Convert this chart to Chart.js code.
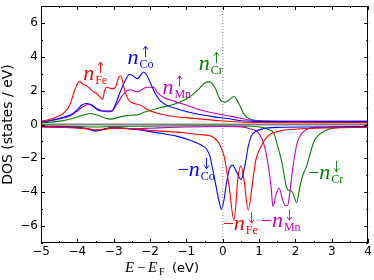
<!DOCTYPE html>
<html>
<head>
<meta charset="utf-8">
<script src="https://cdn.jsdelivr.net/npm/chart.js@4.4.1/dist/chart.umd.min.js"></script>
<style>
  html, body { margin: 0; padding: 0; background: #fff; }
  #c { display: block; }
</style>
</head>
<body>
<canvas id="c" width="374" height="280"></canvas>
<script>
// spin-resolved DOS, [E - E_F (eV), DOS (states/eV)]
const feUp = [[-5,0.2],[-4.8,0.28],[-4.57,0.45],[-4.34,0.75],[-4.2,1.2],[-4.06,2.1],[-3.94,2.55],[-3.83,2.35],[-3.74,2.28],[-3.6,2.0],[-3.46,1.82],[-3.3,1.5],[-3.25,2.0],[-3.19,2.2],[-3.05,2.12],[-2.96,2.17],[-2.86,2.8],[-2.8,2.88],[-2.73,2.3],[-2.68,1.9],[-2.59,1.45],[-2.45,1.25],[-2.27,1.15],[-2.08,0.88],[-1.8,0.66],[-1.34,0.47],[-0.79,0.36],[-0.06,0.22],[0.5,0.15],[1,0.12],[2,0.1],[3,0.1],[4,0.1]];
const coUp = [[-5,0.15],[-4.57,0.33],[-4.2,0.56],[-4.01,0.85],[-3.88,1.15],[-3.74,1.24],[-3.6,1.15],[-3.46,0.89],[-3.32,0.8],[-3.05,0.8],[-2.96,1.15],[-2.82,1.93],[-2.68,2.6],[-2.57,2.95],[-2.5,2.92],[-2.35,2.7],[-2.18,3.1],[-2.1,2.95],[-1.99,2.45],[-1.85,1.8],[-1.71,1.38],[-1.5,1.1],[-1.25,0.92],[-0.8,0.66],[-0.24,0.45],[0.13,0.35],[0.5,0.22],[1.23,0.18],[2,0.18],[3,0.18],[4,0.18]];
const mnUp = [[-5,0.12],[-4.57,0.3],[-4.2,0.5],[-4.0,0.8],[-3.85,1.05],[-3.7,1.18],[-3.55,1.05],[-3.37,0.85],[-3.2,0.75],[-3.05,0.78],[-2.91,1.2],[-2.73,1.8],[-2.54,2.05],[-2.36,1.93],[-2.08,2.2],[-1.9,2.2],[-1.8,1.9],[-1.62,1.6],[-1.34,1.38],[-0.97,1.12],[-0.61,0.86],[-0.15,0.63],[0.31,0.45],[0.68,0.28],[1.2,0.2],[2,0.2],[3,0.2],[4,0.2]];
const crUp = [[-5,0.1],[-4.48,0.2],[-4.11,0.37],[-3.83,0.56],[-3.65,0.65],[-3.46,0.56],[-3.23,0.37],[-3.09,0.32],[-2.82,0.45],[-2.54,0.55],[-2.36,0.56],[-2.17,0.72],[-1.71,1.0],[-1.34,1.2],[-0.97,1.55],[-0.7,2.0],[-0.5,2.45],[-0.36,2.52],[-0.22,2.2],[-0.08,1.5],[0.06,1.32],[0.18,1.45],[0.31,1.65],[0.45,1.2],[0.59,0.6],[0.77,0.3],[1.23,0.2],[2,0.15],[3,0.12],[4,0.12]];

const feDn = [[-5,-0.15],[-4.5,-0.17],[-4,-0.2],[-3.7,-0.25],[-3.5,-0.32],[-3.3,-0.28],[-3.0,-0.2],[-2.5,-0.25],[-2.0,-0.35],[-1.5,-0.42],[-1.0,-0.5],[-0.6,-0.6],[-0.33,-0.68],[-0.15,-0.97],[-0.06,-1.3],[0.04,-1.9],[0.17,-3.6],[0.31,-5.65],[0.42,-3.1],[0.5,-2.45],[0.58,-3.2],[0.7,-5.05],[0.82,-3.4],[0.91,-2.1],[1.05,-1.3],[1.23,-0.7],[1.5,-0.42],[2,-0.28],[3,-0.2],[4,-0.17]];
const coDn = [[-5,-0.12],[-4.5,-0.13],[-4,-0.17],[-3.7,-0.25],[-3.5,-0.38],[-3.3,-0.3],[-3.1,-0.2],[-2.9,-0.18],[-2.5,-0.28],[-2.27,-0.32],[-2.0,-0.42],[-1.71,-0.52],[-1.25,-0.7],[-0.88,-0.95],[-0.61,-1.2],[-0.45,-1.45],[-0.35,-1.9],[-0.28,-2.6],[-0.19,-3.6],[-0.1,-4.55],[-0.04,-5.0],[0.03,-4.5],[0.1,-3.5],[0.18,-2.65],[0.27,-2.4],[0.38,-2.8],[0.5,-3.25],[0.55,-3.0],[0.62,-2.3],[0.7,-1.3],[0.78,-0.7],[0.9,-0.42],[1.1,-0.25],[1.5,-0.17],[2.5,-0.15],[4,-0.13]];
const mnDn = [[-5,-0.13],[-4.5,-0.15],[-4,-0.2],[-3.7,-0.28],[-3.5,-0.38],[-3.3,-0.3],[-3.0,-0.22],[-2.5,-0.25],[-2.0,-0.22],[-1.5,-0.18],[-1,-0.15],[0,-0.12],[0.5,-0.14],[0.75,-0.25],[0.96,-0.45],[1.08,-0.85],[1.16,-1.4],[1.25,-2.4],[1.33,-3.7],[1.38,-4.85],[1.47,-4.1],[1.55,-3.75],[1.64,-4.4],[1.72,-4.8],[1.78,-4.8],[1.84,-4.1],[1.9,-3.0],[1.98,-1.8],[2.06,-1.0],[2.15,-0.6],[2.3,-0.3],[2.6,-0.17],[4,-0.13]];
const crDn = [[-5,-0.08],[-4,-0.12],[-3.5,-0.15],[-3,-0.12],[-2,-0.1],[-1,-0.08],[0,-0.08],[0.8,-0.1],[1.1,-0.18],[1.25,-0.3],[1.4,-0.5],[1.5,-1.2],[1.6,-2.0],[1.68,-2.85],[1.75,-3.7],[1.8,-3.87],[1.9,-3.95],[1.97,-4.3],[2.03,-4.62],[2.12,-3.7],[2.2,-3.0],[2.3,-2.5],[2.4,-1.75],[2.5,-1.05],[2.6,-0.7],[2.8,-0.38],[3.1,-0.2],[3.5,-0.13],[4,-0.12]];

const zeroLine = [[-5,0],[4,0]];
const fermiLine = [[0,-7],[0,7]];

const xTicks = [-5,-4,-3,-2,-1,0,1,2,3,4];
const yTicks = [-6,-4,-2,0,2,4,6];

const RED = '#ff0000', BLUE = '#0000ff', MAG = '#bf00bf', GREEN = '#008000';

// curve labels: [sign, subscript, arrow, E, DOS, colour]
const curveLabels = [
  ['', 'Fe', 'up', -3.84, 2.63, RED],
  ['', 'Co', 'up', -2.62, 3.56, BLUE],
  ['', 'Mn', 'up', -1.66, 1.81, MAG],
  ['', 'Cr', 'up', -0.66, 3.21, GREEN],
  ['−', 'Co', 'down', -1.24, -3.03, BLUE],
  ['−', 'Fe', 'down', 0.0, -6.24, RED],
  ['−', 'Mn', 'down', 1.05, -6.07, MAG],
  ['−', 'Cr', 'down', 2.35, -3.21, GREEN],
];

const fmt = v => (v < 0 ? '\u2212' + Math.abs(v) : String(v));
const pts = arr => arr.map(p => ({ x: p[0], y: p[1] }));

function series(arr, color) {
  return { data: pts(arr), borderColor: color, borderWidth: 1.1, pointRadius: 0, fill: false,
           cubicInterpolationMode: 'monotone' };
}

const framePlugin = {
  id: 'frame',
  afterDatasetsDraw(chart) {
    const { ctx, chartArea: a, scales } = chart;
    ctx.save();
    ctx.strokeStyle = '#000';
    ctx.lineWidth = 1;
    ctx.strokeRect(Math.round(a.left) + 0.5, Math.round(a.top) + 0.5,
                   Math.round(a.right - a.left) - 1, Math.round(a.bottom - a.top) - 1);
    // inward ticks, major and minor
    ctx.beginPath();
    for (let v = -5; v <= 4.001; v += 0.5) {
      const x = Math.round(scales.x.getPixelForValue(v)) + 0.5;
      const len = Number.isInteger(v) ? 4 : 2;
      ctx.moveTo(x, a.bottom); ctx.lineTo(x, a.bottom - len);
      ctx.moveTo(x, a.top); ctx.lineTo(x, a.top + len);
    }
    for (let v = -7; v <= 7; v += 1) {
      const y = Math.round(scales.y.getPixelForValue(v)) + 0.5;
      const len = v % 2 === 0 ? 4 : 2;
      ctx.moveTo(a.left, y); ctx.lineTo(a.left + len, y);
      ctx.moveTo(a.right, y); ctx.lineTo(a.right - len, y);
    }
    ctx.stroke();

    // curve labels
    ctx.textBaseline = 'alphabetic';
    ctx.textAlign = 'left';
    curveLabels.forEach(([sign, sub, dir, e, d, color]) => {
      let x = scales.x.getPixelForValue(e);
      const y = scales.y.getPixelForValue(d);
      ctx.fillStyle = color;
      ctx.strokeStyle = color;
      if (sign) {
        ctx.font = '20px "Liberation Serif"';
        ctx.fillText(sign, x, y);
        x += 11;
      }
      ctx.font = 'italic 22px "Liberation Serif"';
      ctx.fillText('n', x, y);
      const sx = x + 12;
      ctx.font = '12px "Liberation Serif"';
      ctx.fillText(sub, sx, y + 4);
      // spin arrow
      const ax = Math.round(sx + 5) + 0.5;
      const top = y - 18, bot = y - 7;
      ctx.lineWidth = 0.9;
      ctx.beginPath();
      ctx.moveTo(ax, top); ctx.lineTo(ax, bot);
      if (dir === 'up') {
        ctx.moveTo(ax - 2.5, top + 3.5); ctx.lineTo(ax, top); ctx.lineTo(ax + 2.5, top + 3.5);
      } else {
        ctx.moveTo(ax - 2.5, bot - 3.5); ctx.lineTo(ax, bot); ctx.lineTo(ax + 2.5, bot - 3.5);
      }
      ctx.stroke();
    });

    // x axis title: E - E_F (eV)
    ctx.fillStyle = '#000';
    const by = 272;
    ctx.font = 'italic 15px "Liberation Serif"';
    ctx.fillText('E', 125, by);
    ctx.font = '15px "Liberation Serif"';
    ctx.fillText('\u2212', 137, by);
    ctx.font = 'italic 15px "Liberation Serif"';
    ctx.fillText('E', 148, by);
    ctx.font = '10px "Liberation Serif"';
    ctx.fillText('F', 159, by + 3);
    ctx.font = '13px "DejaVu Sans"';
    ctx.fillText('(eV)', 172, by);
    ctx.restore();
  }
};

new Chart(document.getElementById('c').getContext('2d'), {
  type: 'line',
  data: {
    datasets: [
      { data: pts(zeroLine), borderColor: '#808080', borderWidth: 2.2, pointRadius: 0 },
      { data: pts(fermiLine), borderColor: '#888888', borderWidth: 1, borderDash: [1, 2], pointRadius: 0 },
      series(feDn, RED), series(coDn, BLUE), series(mnDn, MAG), series(crDn, GREEN),
      series(feUp, RED), series(coUp, BLUE), series(mnUp, MAG), series(crUp, GREEN),
    ]
  },
  options: {
    responsive: false,
    animation: false,
    devicePixelRatio: 1,
    layout: { padding: { top: 0, right: 5.2, left: 0, bottom: 0 } },
    plugins: { legend: { display: false }, tooltip: { enabled: false } },
    scales: {
      x: {
        type: 'linear', min: -5, max: 4,
        afterFit: s => { s.height = 37; },
        grid: { display: false, drawTicks: false },
        border: { display: false },
        afterBuildTicks: s => { s.ticks = xTicks.map(v => ({ value: v })); },
        ticks: { autoSkip: false, maxRotation: 0, padding: 2, color: '#000',
                 font: { family: 'DejaVu Sans', size: 12 },
                 callback: v => fmt(v) }
      },
      y: {
        type: 'linear', min: -7, max: 7,
        afterFit: s => { s.width = 41; },
        grid: { display: false, drawTicks: false },
        border: { display: false },
        afterBuildTicks: s => { s.ticks = yTicks.map(v => ({ value: v })); },
        ticks: { autoSkip: false, padding: 3, color: '#000',
                 font: { family: 'DejaVu Sans', size: 12, lineHeight: 0.5 },
                 callback: v => fmt(v) },
        title: { display: true, text: 'DOS (states / eV)', color: '#000', padding: 0,
                 font: { family: 'DejaVu Sans', size: 14 } }
      }
    }
  },
  plugins: [framePlugin]
});
</script>
</body>
</html>
